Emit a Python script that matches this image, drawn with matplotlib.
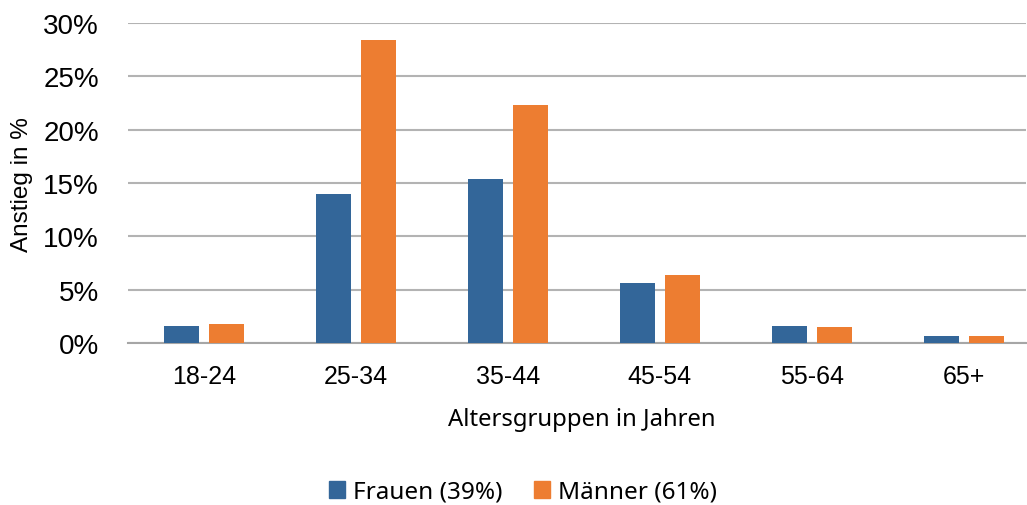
import matplotlib.pyplot as plt
import numpy as np
from matplotlib.patches import Patch
from matplotlib.ticker import FuncFormatter

# Anstieg je Altersgruppe, getrennt nach Geschlecht (in %)
age_groups = ["18-24", "25-34", "35-44", "45-54", "55-64", "65+"]
women = [1.6, 14.0, 15.4, 5.6, 1.6, 0.7]
men = [1.8, 28.4, 22.3, 6.4, 1.5, 0.7]
legend_labels = ["Frauen (39%)", "Männer (61%)"]

BLUE = "#336699"
ORANGE = "#ED7D31"
GRID = "#b3b3b3"

fig = plt.figure(figsize=(10.27, 5.06), dpi=100)
ax = fig.add_axes([128 / 1027, 1 - 344 / 506, 898 / 1027, 320 / 506])

x = np.arange(len(age_groups))
width = 0.23
offset = 0.148
ax.bar(x - offset, women, width, color=BLUE, zorder=3)
ax.bar(x + offset, men, width, color=ORANGE, zorder=3)

ax.set_ylim(0, 30)
ax.set_xlim(-0.5, 5.41)
ax.set_yticks(range(0, 31, 5))
ax.yaxis.set_major_formatter(FuncFormatter(lambda v, _: f"{v:.0f}%"))
ax.set_xticks(x)
ax.set_xticklabels(age_groups)

ax.grid(axis="y", color=GRID, linewidth=1.5, zorder=0)
for side in ["top", "right", "left"]:
    ax.spines[side].set_visible(False)
ax.spines["bottom"].set_color("#a6a6a6")
ax.spines["bottom"].set_linewidth(1.5)
ax.tick_params(axis="both", length=0)
ax.tick_params(axis="y", labelsize=20, pad=21)
ax.tick_params(axis="x", labelsize=18, pad=15)
for lbl in ax.get_xticklabels() + ax.get_yticklabels():
    lbl.set_family("Liberation Sans")

fig.text(22 / 1027, 1 - 185 / 506, "Anstieg in %", rotation=90, ha="center",
         va="center", fontsize=17.5, family="Liberation Sans")
fig.text(582 / 1027, 1 - 420 / 506, "Altersgruppen in Jahren", ha="center",
         va="center", fontsize=17.2, family="Noto Sans")

handles = [Patch(color=BLUE), Patch(color=ORANGE)]
fig.legend(handles, legend_labels, loc="center", ncol=2, frameon=False,
           bbox_to_anchor=(523 / 1027, 1 - 493 / 506),
           prop={"family": "Noto Sans", "size": 17.5},
           handlelength=0.65, handleheight=0.65, handletextpad=0.35,
           columnspacing=1.3)

fig.savefig("out.png", dpi=100)
